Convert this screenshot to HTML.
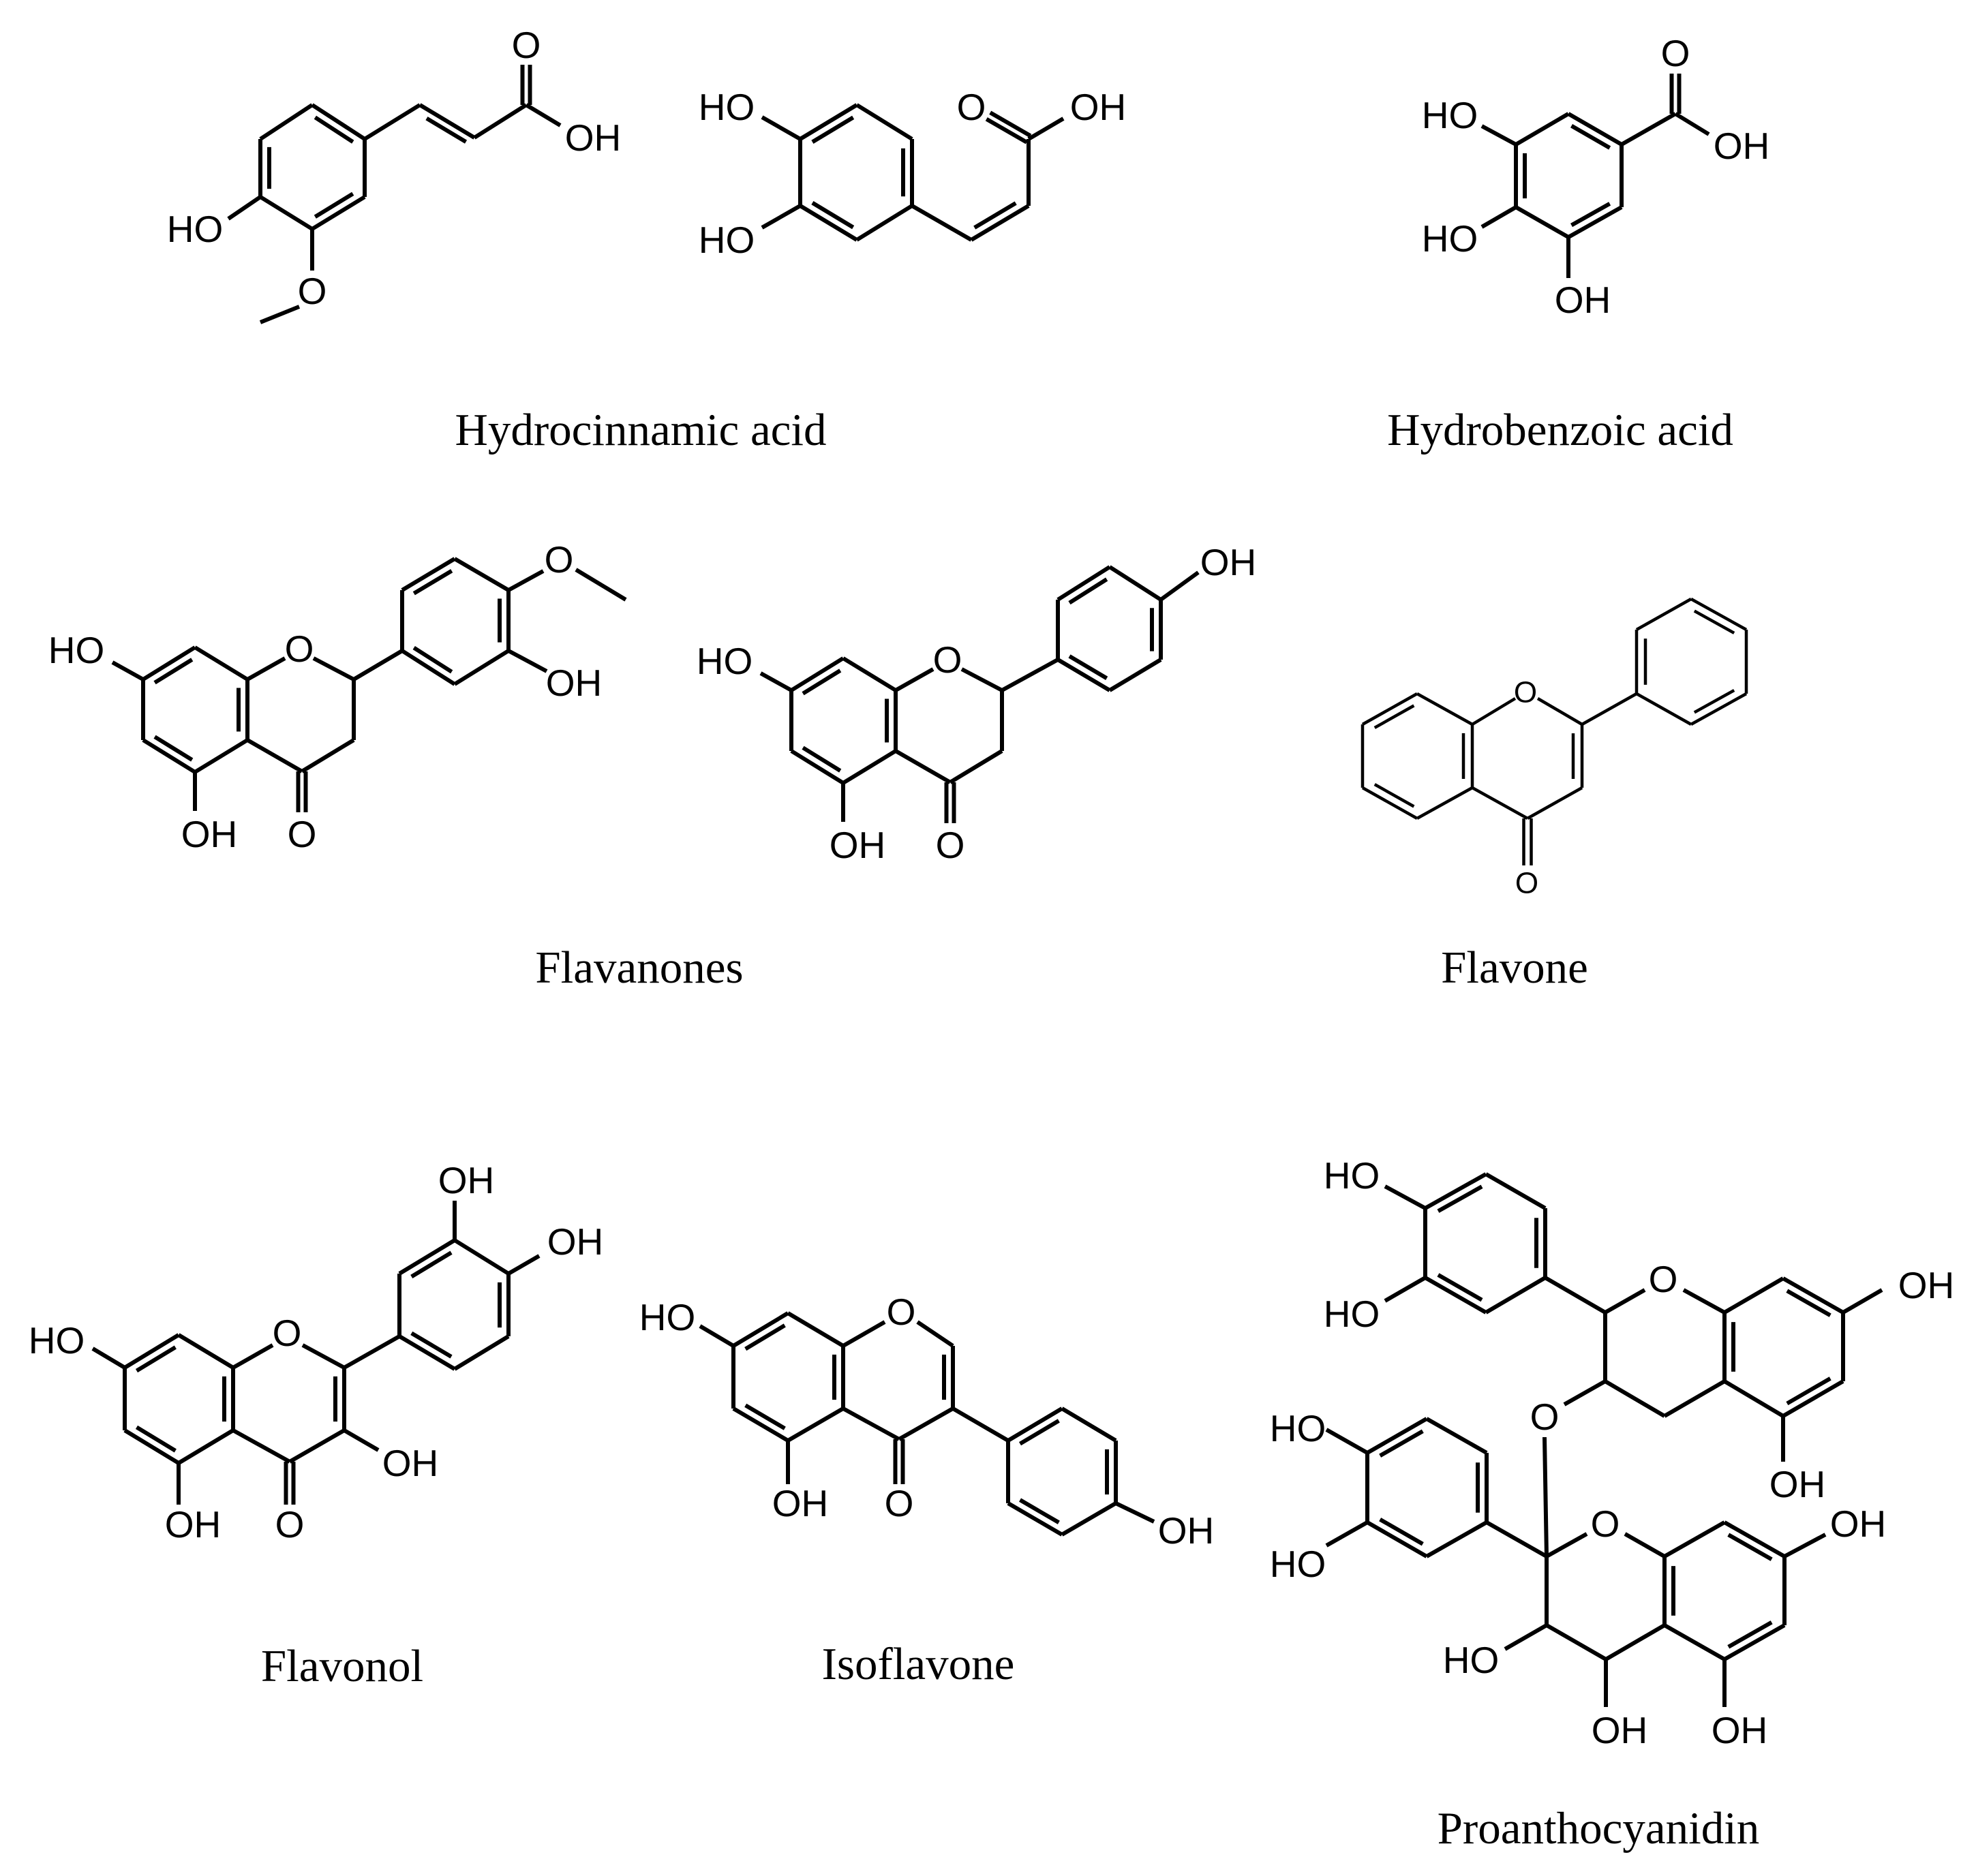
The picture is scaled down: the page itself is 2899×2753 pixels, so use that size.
<!DOCTYPE html>
<html><head><meta charset="utf-8"><style>
html,body{margin:0;padding:0;background:#fff;}
svg{display:block;}
</style></head><body>
<svg id="s" xmlns="http://www.w3.org/2000/svg" width="2899" height="2753" viewBox="0 0 2899 2753">
<rect width="2899" height="2753" fill="#fff"/>
<g id="b" stroke="#000" stroke-width="6" stroke-linecap="butt" stroke-linejoin="miter" fill="none"></g>
<g id="t" fill="#000" font-family="'Liberation Sans', sans-serif" font-size="55" text-anchor="middle" dominant-baseline="central"></g>
<g fill="#000" font-family="'Liberation Serif', serif" font-size="67" text-anchor="middle">
<text x="940" y="653">Hydrocinnamic acid</text>
<text x="2289" y="653">Hydrobenzoic acid</text>
<text x="938" y="1442">Flavanones</text>
<text x="2222" y="1442">Flavone</text>
<text x="502" y="2467">Flavonol</text>
<text x="1347" y="2464">Isoflavone</text>
<text x="2345" y="2705">Proanthocyanidin</text>
</g>
</svg>
<script>
var B=document.getElementById('b'),Tg=document.getElementById('t'),NS='http://www.w3.org/2000/svg';
var W=6;
function L(a,b,c,d){var e=document.createElementNS(NS,'line');e.setAttribute('x1',a);e.setAttribute('y1',b);e.setAttribute('x2',c);e.setAttribute('y2',d);if(W!==6)e.setAttribute('stroke-width',W);B.appendChild(e);}
function D(a,b,c,d,cx,cy){L(a,b,c,d);var mx=(a+c)/2,my=(b+d)/2,dx=cx-mx,dy=cy-my,n=Math.hypot(dx,dy),o=13;var ox=dx/n*o,oy=dy/n*o;var f=0.14;var x1=a+(c-a)*f+ox,y1=b+(d-b)*f+oy,x2=c-(c-a)*f+ox,y2=d-(d-b)*f+oy;L(x1,y1,x2,y2);}
function E(a,b,c,d){var dx=c-a,dy=d-b,n=Math.hypot(dx,dy),px=-dy/n*5.5,py=dx/n*5.5;L(a+px,b+py,c+px,d+py);L(a-px,b-py,c-px,d-py);}
function T(x,y,s,fs){var e=document.createElementNS(NS,'text');e.setAttribute('x',x);e.setAttribute('y',y);if(fs)e.setAttribute('font-size',fs);e.textContent=s;Tg.appendChild(e);}
function R(v,dbl){var cx=0,cy=0;v.forEach(function(p){cx+=p[0];cy+=p[1];});cx/=6;cy/=6;for(var i=0;i<6;i++){var a=v[i],b=v[(i+1)%6];if(dbl.indexOf(i)>=0)D(a[0],a[1],b[0],b[1],cx,cy);else L(a[0],a[1],b[0],b[1]);}}
var r=[[458,154],[535,204],[535,289],[458,336],[382,289],[382,204]];
R(r,[0,2,4]);
L(382,289,335,321);T(286,336,'HO');
L(458,336,458,397);T(458,427,'O');L(439,450,382,473);
L(535,204,616,154);D(616,154,696,202,650,240);L(696,202,772,154);
E(772,154,772,95);T(772,66,'O');L(772,154,822,184);T(870,202,'OH');
r=[[1257,154],[1338,204],[1338,302],[1257,352],[1174,302],[1174,204]];
R(r,[5,1,3]);
L(1174,204,1118,172);T(1066,157,'HO');L(1174,302,1118,334);T(1066,352,'HO');
L(1338,302,1425,352);D(1425,352,1509,302,1440,285);L(1509,302,1509,204);
E(1509,204,1450,170);T(1425,157,'O');L(1509,204,1560,174);T(1611,157,'OH');
r=[[2301,167],[2379,212],[2379,304],[2301,348],[2224,304],[2224,212]];
R(r,[0,2,4]);
L(2224,212,2174,185);T(2127,169,'HO');L(2224,304,2174,333);T(2127,350,'HO');
L(2301,348,2301,408);T(2322,440,'OH');
L(2379,212,2458,167);E(2458,167,2458,108);T(2458,78,'O');L(2458,167,2507,197);T(2555,214,'OH');
function flavanone(dx,dy){r=[[286+dx,950+dy],[363+dx,997+dy],[363+dx,1086+dy],[286+dx,1133+dy],[210+dx,1086+dy],[210+dx,997+dy]];R(r,[5,1,3]);
L(210+dx,997+dy,165+dx,972+dy);T(112+dx,954+dy,'HO');
L(363+dx,997+dy,418+dx,966+dy);T(439+dx,952+dy,'O');L(460+dx,966+dy,519+dx,997+dy);
L(519+dx,997+dy,519+dx,1086+dy);L(519+dx,1086+dy,443+dx,1132+dy);L(443+dx,1132+dy,363+dx,1086+dy);
E(443+dx,1132+dy,443+dx,1192+dy);T(443+dx,1224+dy,'O');L(286+dx,1133+dy,286+dx,1190+dy);T(307+dx,1224+dy,'OH');}
flavanone(0,0);
r=[[667,820],[746,866],[746,955],[667,1004],[590,955],[590,866]];R(r,[5,1,3]);
L(519,997,590,955);L(746,866,797,838);T(820,821,'O');L(845,836,918,880);
L(746,955,802,985);T(842,1002,'OH');
flavanone(951,16);
r=[[1628,832],[1703,880],[1703,968],[1628,1013],[1552,968],[1552,880]];R(r,[5,1,3]);
L(1470,1013,1552,968);L(1703,880,1758,840);T(1802,825,'OH');
W=4.5;
r=[[2079,1018],[2160,1063],[2160,1156],[2079,1201],[1999,1156],[1999,1063]];R(r,[5,1,3]);
L(2160,1063,2223,1025);T(2238,1016,'O',44);L(2256,1025,2321,1063);
D(2321,1063,2321,1156,2241,1110);L(2321,1156,2241,1201);L(2241,1201,2160,1156);
E(2241,1201,2241,1270);T(2240,1296,'O',44);
r=[[2481,879],[2562,924],[2562,1018],[2481,1063],[2401,1018],[2401,924]];R(r,[0,2,4]);
L(2321,1063,2401,1018);
W=6;
r=[[262,1959],[342,2007],[342,2099],[262,2147],[183,2099],[183,2007]];R(r,[5,1,3]);
L(183,2007,136,1979);T(83,1967,'HO');
L(342,2007,400,1974);T(421,1956,'O');L(444,1974,505,2007);
D(505,2007,505,2099,425,2053);L(505,2099,425,2145);L(425,2145,342,2099);
E(425,2145,425,2208);T(425,2237,'O');L(505,2099,555,2128);T(602,2147,'OH');
L(262,2147,262,2208);T(283,2237,'OH');
r=[[667,1820],[746,1869],[746,1961],[667,2009],[586,1961],[586,1869]];R(r,[5,1,3]);
L(505,2007,586,1961);L(667,1820,667,1762);T(684,1732,'OH');L(746,1869,791,1843);T(844,1822,'OH');
r=[[1156,1927],[1237,1975],[1237,2067],[1156,2114],[1076,2067],[1076,1975]];R(r,[5,1,3]);
L(1076,1975,1027,1946);T(979,1933,'HO');
L(1237,1975,1298,1940);T(1322,1925,'O');L(1346,1940,1398,1975);
D(1398,1975,1398,2067,1319,2021);L(1398,2067,1319,2112);L(1319,2112,1237,2067);
E(1319,2112,1319,2178);T(1319,2206,'O');L(1156,2114,1156,2178);T(1174,2206,'OH');
r=[[1558,2067],[1637,2114],[1637,2206],[1558,2252],[1479,2206],[1479,2114]];R(r,[5,1,3]);
L(1398,2067,1479,2114);L(1637,2206,1693,2233);T(1740,2246,'OH');
r=[[2180,1723],[2267,1773],[2267,1875],[2180,1926],[2091,1875],[2091,1773]];R(r,[5,1,3]);
L(2091,1773,2032,1741);T(1983,1725,'HO');L(2091,1875,2032,1909);T(1983,1928,'HO');
L(2267,1875,2355,1926);L(2355,1926,2413,1893);T(2440,1877,'O');L(2470,1893,2530,1926);
r=[[2616,1876],[2704,1926],[2704,2027],[2616,2078],[2530,2027],[2530,1926]];R(r,[0,2,4]);
L(2704,1926,2761,1893);T(2826,1886,'OH');L(2616,2078,2616,2145);T(2637,2178,'OH');
L(2355,1926,2355,2027);L(2355,2027,2442,2078);L(2442,2078,2530,2027);
L(2355,2027,2295,2061);T(2266,2079,'O');L(2266,2109,2269,2284);
r=[[2093,2082],[2181,2132],[2181,2234],[2093,2284],[2006,2234],[2006,2132]];R(r,[5,1,3]);
L(2006,2132,1946,2098);T(1904,2096,'HO');L(2006,2234,1946,2268);T(1904,2295,'HO');
L(2181,2234,2269,2284);
L(2269,2284,2328,2251);T(2355,2236,'O');L(2384,2251,2442,2284);
r=[[2530,2234],[2618,2284],[2618,2385],[2530,2435],[2442,2385],[2442,2284]];R(r,[0,2,4]);
L(2618,2284,2678,2252);T(2726,2236,'OH');
L(2269,2284,2269,2385);L(2269,2385,2356,2435);L(2356,2435,2442,2385);
L(2269,2385,2208,2420);T(2158,2436,'HO');
L(2356,2435,2356,2505);T(2376,2539,'OH');L(2530,2435,2530,2505);T(2552,2539,'OH');
</script>
</body></html>
